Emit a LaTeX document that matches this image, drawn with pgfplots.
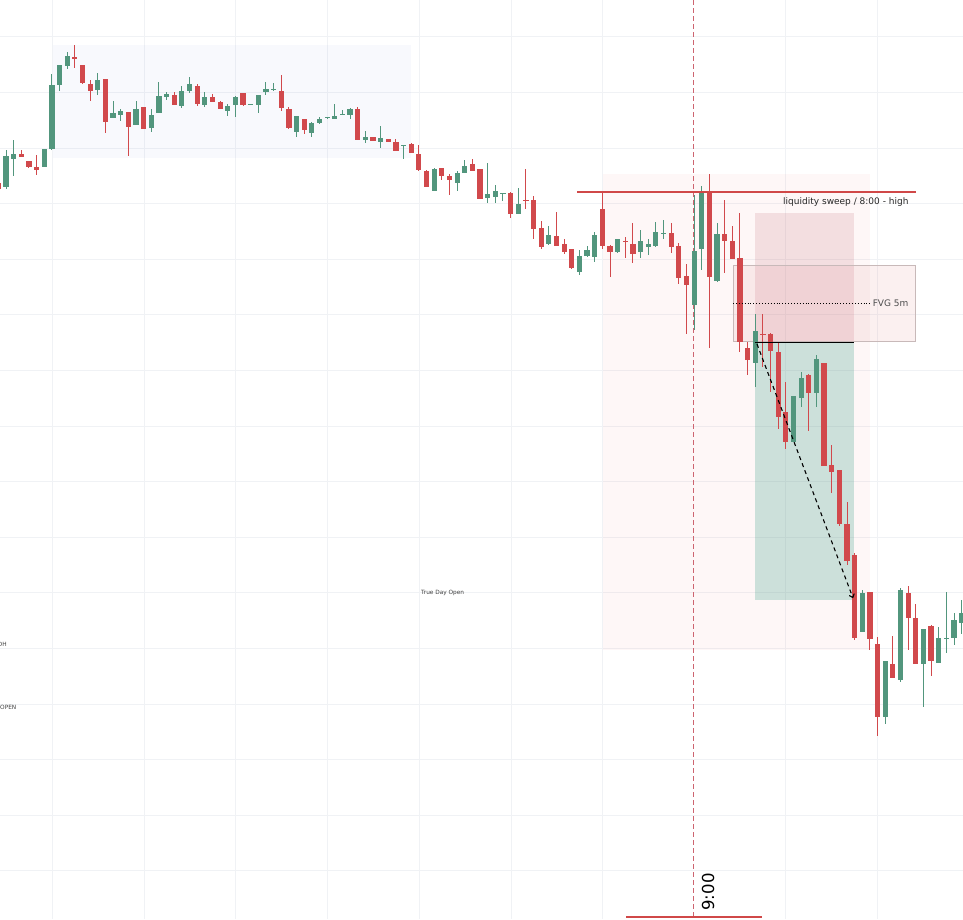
\documentclass[border=0pt]{standalone}
\usepackage{fontspec}
\setmainfont{DejaVu Sans}
\usepackage{pgfplots}
\usepackage{pgfplotstable}
\pgfplotsset{compat=1.18}
\usetikzlibrary{arrows.meta}

\definecolor{cgreen}{RGB}{82,150,125}
\definecolor{cred}{RGB}{209,73,76}
\definecolor{gridc}{RGB}{240,242,245}
\definecolor{lineRed}{RGB}{208,72,72}
\definecolor{vdash}{RGB}{205,100,112}

% candles in screen units: x, body top, body bottom, wick top, wick bottom
\pgfplotstableread{
x bt bb hi lo
6.0 156 187 150 189
13.6 154 159 140 176
44.2 149 167 149 167
51.9 85 149 74 150
59.5 65 85 65 91
67.2 56 66 52 69
97.7 80 90 73 95
113.0 113 118 101 118
120.7 111 115 109 121
136.0 109 125 101 125
151.3 115 128 109 132
158.9 96 113 82 113
166.5 94 97 92 100
181.8 91 106 86 108
189.5 84 91 77 93
204.8 97 105 92 107
227.7 106 111 104 116
235.4 97 105 96 117
250.6 104 105 104 105
258.3 95 105 95 113
265.9 89 92 82 95
273.6 89 90 83 91
296.5 116 132 116 137
311.8 123 133 122 137
319.4 119 123 117 124
327.1 117 118 117 119
334.7 116 119 104 119
342.4 114 115 110 115
350.0 109 115 108 119
365.3 137 140 131 143
380.6 138 142 126 148
403.5 145 146 145 159
434.1 169 191 168 191
457.1 173 183 171 191
464.7 166 173 160 173
487.6 194 198 163 203
495.3 191 197 185 203
502.9 193 194 193 201
518.2 204 214 188 214
548.8 235 244 226 245
579.4 256 272 250 275
587.0 250 256 246 257
594.7 235 257 232 262
617.6 239 252 239 253
640.5 241 252 230 258
648.2 244 247 239 255
655.8 232 246 222 247
663.5 233 234 220 239
694.1 251 305 195 330
701.7 193 249 186 270
717.0 234 281 223 282
755.2 331 363 314 387
793.4 396 442 396 442
801.1 378 398 372 407
816.4 359 393 355 407
862.2 593 632 590 632
885.2 661 717 661 724
900.5 590 680 588 682
923.4 629 664 629 707
938.7 638 663 627 663
946.3 638 639 592 653
954.0 620 638 613 645
961.6 613 623 600 634
}\greentab

\pgfplotstableread{
x bt bb hi lo
-1.6 183 189 180 190
21.3 154 157 150 157
28.9 161 167 161 168
36.6 167 170 155 175
74.8 57 59 45 68
82.5 65 83 65 84
90.1 84 91 80 101
105.4 79 122 79 133
128.3 112 127 112 156
143.6 107 129 107 129
174.2 95 105 92 105
197.1 86 104 84 106
212.4 97 102 94 102
220.1 102 109 101 109
243.0 93 105 93 106
281.2 91 108 75 111
288.9 109 128 107 129
304.2 119 130 119 134
357.7 109 140 107 140
373.0 137 141 137 141
388.3 139 142 139 142
395.9 142 151 139 151
411.2 144 153 143 153
418.8 154 170 145 171
426.5 171 187 170 187
441.8 168 176 168 180
449.4 176 180 174 195
472.3 164 171 159 171
480.0 169 199 169 199
510.6 193 214 192 218
525.9 200 201 169 209
533.5 200 229 196 239
541.2 228 247 221 249
556.4 236 246 212 246
564.1 244 252 239 254
571.7 249 268 249 269
602.3 209 246 193 249
610.0 246 252 245 277
625.2 241 242 237 258
632.9 244 254 223 263
671.1 233 247 223 253
678.8 246 278 243 284
686.4 276 285 264 334
709.3 191 277 174 348
724.6 234 241 200 273
732.3 241 259 226 259
739.9 258 342 213 352
747.6 348 360 342 375
762.9 334 335 314 367
770.5 334 351 333 392
778.1 352 417 343 429
785.8 412 442 382 449
808.7 375 393 374 431
824.0 363 466 363 466
831.7 465 472 445 493
839.3 470 524 470 526
847.0 524 561 502 565
854.6 555 638 553 640
869.9 592 639 592 650
877.5 644 717 637 736
892.8 664 678 636 678
908.1 593 618 586 650
915.8 618 664 604 664
931.0 626 661 625 676
}\redtab

\begin{document}
\begin{tikzpicture}
\begin{axis}[
    width=963pt, height=919pt, scale only axis,
    xmin=0, xmax=963, ymin=0, ymax=919,
    y dir=reverse,
    axis line style={draw=none},
    tick style={draw=none},
    xtick={52,144,235.5,327,419,511,602.5,785.5,877},
    ytick={36.7,92.3,148.3,203.3,259.3,314.3,370,426,481.7,537.3,592.7,648.3,704.3,759.5,815,870.5},
    xticklabels={}, yticklabels={},
    grid=major,
    major grid style={draw=gridc, line width=1pt},
    candle/.style={draw=none, mark=none, error bars/.cd, y dir=plus, y explicit, error mark=none},
]
% shaded zones
\addplot[draw=none, fill={rgb,255:red,150;green,170;blue,230}, fill opacity=0.07]
    coordinates {(53,45) (411,45) (411,158) (53,158)} -- cycle;
\addplot[draw=none, fill={rgb,255:red,230;green,120;blue,120}, fill opacity=0.06]
    coordinates {(603,174) (870,174) (870,650) (603,650)} -- cycle;
\addplot[draw=none, fill={rgb,255:red,200;green,120;blue,130}, fill opacity=0.2]
    coordinates {(755,213) (854,213) (854,342) (755,342)} -- cycle;
\addplot[draw={rgb,255:red,200;green,185;blue,185}, line width=0.8pt,
    fill={rgb,255:red,220;green,130;blue,135}, fill opacity=0.12]
    coordinates {(733,265) (915,265) (915,341.5) (733,341.5)} -- cycle;
\addplot[draw=none, fill={rgb,255:red,90;green,170;blue,150}, fill opacity=0.3]
    coordinates {(755,342) (854,342) (854,600) (755,600)} -- cycle;

% 9:00 marker
\addplot[vdash, line width=1pt, dash pattern=on 5pt off 3pt]
    coordinates {(693.3,0) (693.3,919)};

% wicks and bodies
\addplot[candle, error bar style={draw=cgreen, line width=1pt}]
    table[x=x, y=hi, y error expr=\thisrow{lo}-\thisrow{hi}] {\greentab};
\addplot[candle, error bar style={draw=cgreen, line width=5.2pt}]
    table[x=x, y=bt, y error expr=\thisrow{bb}-\thisrow{bt}] {\greentab};
\addplot[candle, error bar style={draw=cred, line width=1pt}]
    table[x=x, y=hi, y error expr=\thisrow{lo}-\thisrow{hi}] {\redtab};
\addplot[candle, error bar style={draw=cred, line width=5.2pt}]
    table[x=x, y=bt, y error expr=\thisrow{bb}-\thisrow{bt}] {\redtab};

% annotations
\addplot[lineRed, line width=2.5pt] coordinates {(577,192) (916,192)};
\addplot[black, line width=0.9pt, dotted] coordinates {(733,303) (871,303)};
\addplot[black, line width=1pt] coordinates {(755,342) (854,342)};
\addplot[black, line width=1.1pt, dash pattern=on 4pt off 3.5pt, -{To[length=4pt,width=6pt]}]
    coordinates {(757,344) (853,598)};
\addplot[lineRed, line width=2pt] coordinates {(626,917) (762,917)};

\node[anchor=east, text=black!85, font=\fontsize{9}{10}\selectfont] at (axis cs:912,202) {liquidity sweep / 8:00 - high};
\node[anchor=east, text=black!70, font=\fontsize{9}{10}\selectfont] at (axis cs:912,303) {FVG 5m};
\node[anchor=west, inner sep=0pt, text=black!75, font=\fontsize{5.8}{6}\selectfont] at (axis cs:421,593) {True Day Open};
\node[anchor=east, inner sep=0pt, text=black!75, font=\fontsize{5.8}{6}\selectfont] at (axis cs:7,644) {PDH};
\node[anchor=west, inner sep=0pt, text=black!75, font=\fontsize{5.8}{6}\selectfont] at (axis cs:0,707) {OPEN};
\node[rotate=90, inner sep=0pt, text=black, font=\fontsize{16.5}{17}\selectfont] at (axis cs:708,892) {9:00};
\end{axis}
\pgfresetboundingbox
\path[use as bounding box] (0,0) rectangle (963pt,919pt);
\end{tikzpicture}
\end{document}
